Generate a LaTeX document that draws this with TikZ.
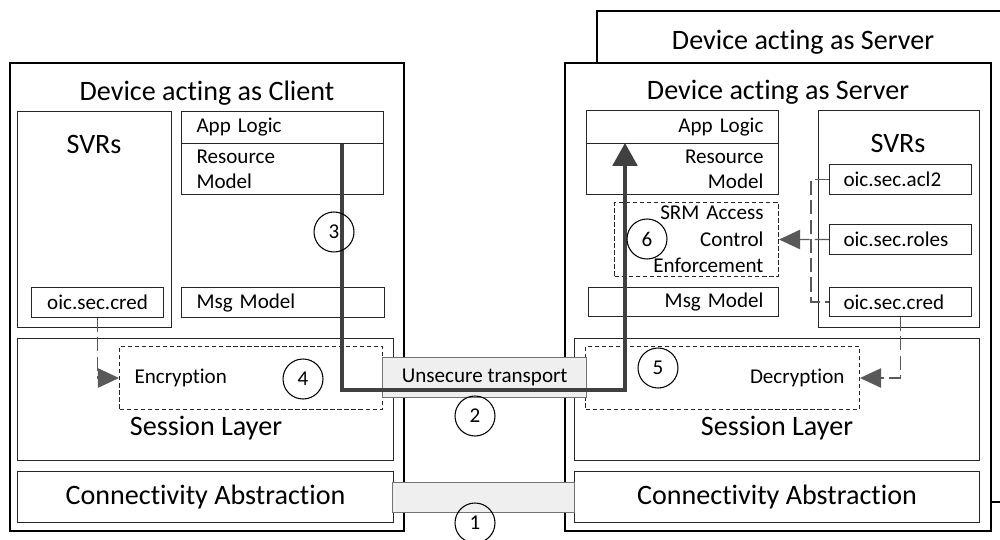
\documentclass[tikz,border=0pt]{standalone}
\usepackage{fontspec}
\setmainfont{Carlito}[Ligatures=NoCommon]
\usetikzlibrary{arrows.meta}
\definecolor{flowgray}{HTML}{404040}
\definecolor{dashgray}{HTML}{595959}
\definecolor{pipefill}{HTML}{EFEFEF}
\begin{document}
\begin{tikzpicture}[x=0.02cm,y=-0.02cm,
  outerbox/.style={draw,line width=1pt,fill=white,anchor=north west,inner sep=0pt},
  box/.style={draw=black!85,line width=0.6pt,anchor=north west,inner sep=0pt},
  dashbox/.style={box,dash pattern=on 2.5pt off 1.5pt},
  pipe/.style={draw=black!55,line width=0.8pt,fill=pipefill,anchor=north west,inner sep=0pt},
  lefttxt/.style={align=left,inner xsep=0.3cm},
  righttxt/.style={align=right,inner xsep=0.3cm},
  num/.style={draw,circle,minimum size=0.8cm,inner sep=0pt,line width=0.6pt,font=\fontsize{12}{14}\selectfont},
  big/.style={font=\fontsize{16}{19}\selectfont},
  txt/.style={font=\fontsize{12}{14.2}\selectfont},
  small/.style={font=\fontsize{12}{14}\selectfont},
  flow/.style={draw=flowgray,line width=1.8pt},
  dashcon/.style={draw=dashgray,line width=0.8pt,dash pattern=on 8pt off 3pt},
  tip/.style={-{Triangle[length=12pt,width=11pt]}}]
\useasboundingbox (0,0) rectangle (1000,540);
\clip (0,0) rectangle (1000,540);
% device frames
\node[outerbox,minimum width=8.68cm,minimum height=9.82cm] (backsrv) at (596,10) {};
\node[outerbox,minimum width=8.52cm,minimum height=9.36cm] (server) at (564,62) {};
\node[outerbox,minimum width=7.88cm,minimum height=9.36cm] (client) at (9,62) {};
\node[big] (backT) at (803,42) {Device acting as Server};
\node[big] (serverT) at (778,92) {Device acting as Server};
\node[big] (clientT) at (207,93) {Device acting as Client};
% client side
\node[box,minimum width=3.08cm,minimum height=4.32cm] (cSVR) at (17,111) {};
\node[big] (cSVRt) at (94,144) {SVRs};
\node[box,txt,minimum width=2.64cm,minimum height=0.6cm] (cCred) at (31,287) {oic.sec.cred};
\node[box,txt,lefttxt,text width=3.44cm,minimum width=4.04cm,minimum height=0.64cm] (cApp) at (181,111) {App Logic};
\node[box,txt,lefttxt,text width=3.44cm,minimum width=4.04cm,minimum height=1.02cm] (cRes) at (181,143) {Resource\\Model};
\node[box,txt,lefttxt,text width=3.46cm,minimum width=4.06cm,minimum height=0.6cm] (cMsg) at (181,287) {Msg Model};
\node[box,minimum width=7.52cm,minimum height=2.44cm] (cSess) at (17,338) {};
\node[dashbox,small,lefttxt,text width=4.66cm,minimum width=5.26cm,minimum height=1.26cm] (cEnc) at (119,346) {Encryption};
\node[big] (cSessT) at (206,428) {Session Layer};
\node[box,big,minimum width=7.52cm,minimum height=1.02cm] (cConn) at (17,471) {Connectivity Abstraction};
% server side
\node[box,txt,righttxt,text width=3.24cm,minimum width=3.84cm,minimum height=0.66cm] (sApp) at (586,110) {App Logic};
\node[box,txt,righttxt,text width=3.24cm,minimum width=3.84cm,minimum height=1.02cm] (sRes) at (586,143) {Resource\\Model};
\node[dashbox,righttxt,text width=2.68cm,minimum width=3.28cm,minimum height=1.48cm,font=\fontsize{12}{15}\selectfont] (sSRM) at (614,202) {SRM Access\\Control\\Enforcement};
\node[box,txt,righttxt,text width=3.2cm,minimum width=3.8cm,minimum height=0.58cm] (sMsg) at (588,287) {Msg Model};
\node[box,minimum width=3.22cm,minimum height=4.34cm] (sSVR) at (818,110) {};
\node[big] (sSVRt) at (898,143) {SVRs};
\node[box,txt,align=left,inner xsep=0.28cm,text width=2.28cm,minimum width=2.84cm,minimum height=0.6cm] (sAcl) at (829,164) {oic.sec.acl2};
\node[box,txt,align=left,inner xsep=0.28cm,text width=2.28cm,minimum width=2.84cm,minimum height=0.6cm] (sRol) at (829,224) {oic.sec.roles};
\node[box,txt,align=left,inner xsep=0.28cm,text width=2.28cm,minimum width=2.84cm,minimum height=0.58cm] (sCred) at (829,287) {oic.sec.cred};
\node[box,minimum width=8.1cm,minimum height=2.44cm] (sSess) at (574,338) {};
\node[dashbox,small,righttxt,text width=4.88cm,minimum width=5.48cm,minimum height=1.26cm] (sDec) at (585,346) {Decryption};
\node[big] (sSessT) at (777,428) {Session Layer};
\node[box,big,minimum width=8.1cm,minimum height=1.02cm] (sConn) at (574,471) {Connectivity Abstraction};
% links between the devices
\node[pipe,small,minimum width=4.08cm,minimum height=0.8cm] (transport) at (382,357) {Unsecure transport};
\node[pipe,minimum width=3.64cm,minimum height=0.6cm] (link) at (392,482) {};
% message path
\coordinate (turnL) at (342,390);
\coordinate (turnR) at (625,390);
\draw[flow,-{Triangle[length=13pt,width=14pt]}] (cApp.south -| turnL) -- (turnL) -- (turnR) -- (sRes.north -| turnR);
% credentials and rules
\draw[dashcon,tip] (cCred.south) |- (cEnc.west);
\draw[dashcon,tip] (sCred.south) |- (sDec.east);
\coordinate (bus) at (811,240);
\draw[dashcon] (sAcl.west) -| (bus) |- (sCred.west);
\draw[dashcon,tip] (sRol.west) -- (sSRM.east);
% steps
\foreach \n/\px/\py in {1/475/523,2/475/416,3/334/232,4/303/379,5/658/368,6/647/239}
  \node[num] (n\n) at (\px,\py) {\n};
\end{tikzpicture}
\end{document}
